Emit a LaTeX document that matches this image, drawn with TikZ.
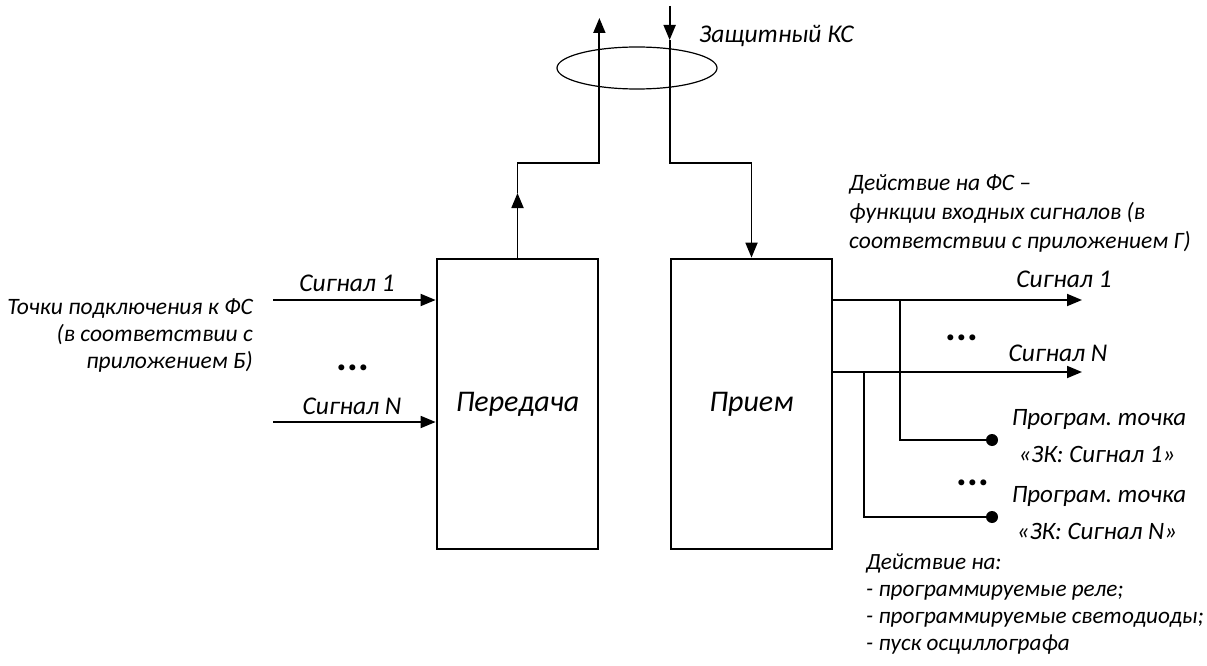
\documentclass[tikz,border=0pt]{standalone}
\usepackage{fontspec}
\setmainfont{Carlito}
\frenchspacing
\usetikzlibrary{arrows.meta,shapes.geometric}
\begin{document}
\begin{tikzpicture}[x=1pt,y=-1pt,
  lbl/.style={font=\fontsize{#1}{#1}\selectfont\itshape, inner sep=0pt},
  lbl/.default=23.5,
  boxlbl/.style={font=\fontsize{30}{34}\selectfont\itshape},
  blk/.style={draw, line width=2.75pt, minimum width=161pt, minimum height=290pt, inner sep=0pt},
  conn/.style={line width=1.8pt},
  thin conn/.style={line width=1.5pt},
  tip/.style={-{Triangle[length=15pt,width=12pt]}},
  pin/.style={circle, fill, inner sep=0pt, minimum size=12pt},
  ell/.style={font=\fontsize{40}{40}\selectfont\bfseries\upshape, inner sep=0pt}
]
\useasboundingbox (0,0) rectangle (1207,666);

% blocks
\node[blk, boxlbl] (tx) at (517.5,404) {Передача};
\node[blk, boxlbl] (rx) at (751.5,404) {Прием};

% protected channel
\node[draw, ellipse, line width=1.2pt, minimum width=160pt, minimum height=42pt] (ks) at (637,68) {};
\node[lbl=25.5, anchor=base west] (kslbl) at (699,43) {Защитный КС};

% transmit path
\coordinate (txa) at (tx.north |- 0,193);
\coordinate (txb) at (tx.north |- 0,163);
\coordinate (txc) at (tx.east |- txb);
\coordinate (txd) at (tx.east |- 0,18);
\draw[conn,tip] (tx.north) -- (txa);
\draw[conn,tip] (txa) -- (txb) -- (txc) -- (txd);

% receive path
\coordinate (rxa) at (rx.west |- 0,6);
\coordinate (rxb) at (rx.west |- 0,40);
\coordinate (rxc) at (rx.west |- 0,163);
\coordinate (rxd) at (rx.north |- rxc);
\coordinate (rxe) at (rx.north |- 0,207);
\draw[conn,tip] (rxa) -- (rxb);
\draw[conn] (rxb) -- (rxc) -- (rxd) -- (rxe);
\draw[conn,tip] (rxe) -- (rx.north);

% inputs
\coordinate (in1) at (273,300);
\coordinate (inN) at (273,422);
\draw[conn,tip] (in1) -- (in1 -| tx.west);
\draw[conn,tip] (inN) -- (inN -| tx.west);
\node[lbl=25.5, anchor=base] (in1lbl) at (347,291) {Сигнал 1};
\node[lbl=25.5, anchor=base] (inNlbl) at (352,414) {Сигнал N};
\node[ell, anchor=base] (indots) at (353,370) {...};
\node[lbl, anchor=base east] (inA) at (253,314) {Точки подключения к ФС};
\node[lbl, anchor=base east] (inB) at (253,341) {(в соответствии с};
\node[lbl, anchor=base east] (inC) at (253,368) {приложением Б)};

% outputs
\coordinate (out1) at (1082,300);
\coordinate (outN) at (1082,372);
\draw[conn,tip] (out1 -| rx.east) -- (out1);
\draw[conn,tip] (outN -| rx.east) -- (outN);
\node[lbl=25.5, anchor=base] (out1lbl) at (1064,287) {Сигнал 1};
\node[lbl=25.5, anchor=base] (outNlbl) at (1058,361) {Сигнал N};
\node[ell, anchor=base] (outdots) at (962,340) {...};
\node[lbl, anchor=base west] (fsA) at (849,190) {Действие на ФС –};
\node[lbl, anchor=base west] (fsB) at (849,219) {функции входных сигналов (в};
\node[lbl, anchor=base west] (fsC) at (849,248) {соответствии с приложением Г)};

% programmable points
\node[pin] (p1) at (992,440) {};
\node[pin] (p2) at (992,517) {};
\coordinate (b1) at (900,300);
\coordinate (b2) at (864,372);
\draw[thin conn] (b1) -- (b1 |- p1) -- (p1.center);
\draw[thin conn] (b2) -- (b2 |- p2) -- (p2.center);
\node[lbl=25, anchor=base] (p1a) at (1099,425) {Програм. точка};
\node[lbl=25, anchor=base] (p1b) at (1097,462) {«ЗК: Сигнал 1»};
\node[ell, anchor=base] (pdots) at (973,485) {...};
\node[lbl=25, anchor=base] (p2a) at (1099,502) {Програм. точка};
\node[lbl=25, anchor=base] (p2b) at (1097,539) {«ЗК: Сигнал N»};

% actions
\node[lbl=23.2, anchor=base west] (actA) at (866,569) {Действие на:};
\node[lbl=23.2, anchor=base west] (actB) at (866,596) {- программируемые реле;};
\node[lbl=23.2, anchor=base west] (actC) at (866,623) {- программируемые светодиоды;};
\node[lbl=23.2, anchor=base west] (actD) at (866,650) {- пуск осциллографа};
\end{tikzpicture}
\end{document}
